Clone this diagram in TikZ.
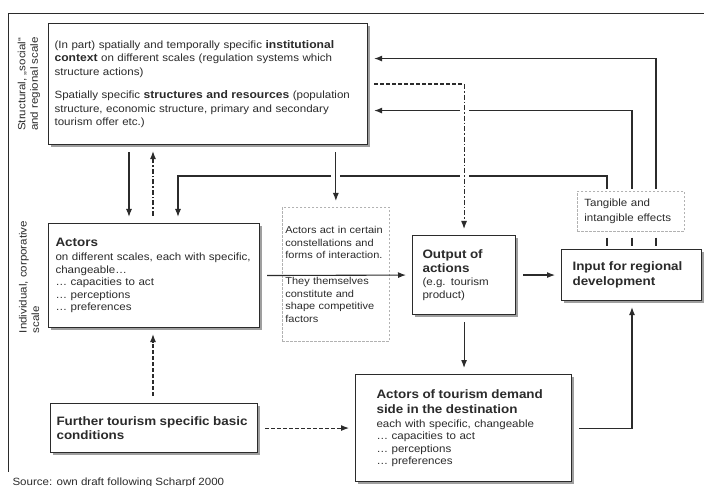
\documentclass[tikz,border=0pt]{standalone}
\usepackage{fontspec}
\setmainfont{Liberation Sans}[FakeStretch=1.1]
\usepackage{tikz}
\usetikzlibrary{arrows.meta}
\usetikzlibrary{shadows}
\usepackage{xcolor}
\definecolor{ink}{HTML}{2B2B2B}

\newcommand{\hd}[1]{{\fontsize{12.2}{15}\selectfont\bfseries #1}}
\newcommand{\kw}[1]{{\fontsize{11}{13}\selectfont\bfseries #1}}

\begin{document}
\begin{tikzpicture}[x=1pt,y=-1pt,
	box/.style={draw=ink, line width=1.1pt, fill=white, anchor=north west,
		drop shadow={shadow xshift=2pt, shadow yshift=-2pt, fill=gray!75, opacity=1},
		inner xsep=8pt, inner ysep=0pt, align=left, text=ink,
		font=\fontsize{10.5}{12.5}\selectfont},
	dbox/.style={draw=gray!60, dash pattern=on 2.5pt off 1.5pt, line width=0.7pt, anchor=north west,
		inner xsep=5pt, inner ysep=0pt, align=left, text=ink,
		font=\fontsize{10.5}{12.5}\selectfont},
	link/.style={draw=ink, line width=1.1pt, -{Latex[length=8pt,width=6pt]},
		shorten <=7pt, shorten >=6pt},
	tick/.style={draw=ink, line width=1.1pt, shorten <=6pt, shorten >=3pt},
	dsh/.style={dash pattern=on 4pt off 2pt},
	dshdot/.style={dash pattern=on 5pt off 2pt on 1.5pt off 2pt},
	gap/.style={preaction={draw=white, line width=9pt, solid, -}},
	side/.style={rotate=90, align=left, text=ink, font=\fontsize{10.5}{12.5}\selectfont},
	]
	\useasboundingbox (0,0) rectangle (704,486);
	\draw[ink, line width=0.8pt] (704,13) -- (8,13) -- (8,472);
	
	\node[side] at (29,84) (lvl1) {Structural, „social“\\and regional scale};
	\node[side] at (29,277) (lvl2) {Individual, corporative\\scale};
	
	\node[box, inner xsep=6pt, text width=307pt, minimum height=121pt,
		font=\fontsize{10.5}{13.3}\selectfont] at (48,23) (struct)
	{(In part) spatially and temporally specific \kw{institutional}\\
		\kw{context} on different scales (regulation systems which\\
		structure actions)\\[10.5pt]
		Spatially specific \kw{structures and resources} (population\\
		structure, economic structure, primary and secondary\\
		tourism offer etc.)};
	
	\node[box, inner xsep=7pt, text width=197pt, minimum height=104pt] at (48,223) (actors)
	{\hd{Actors}\\[1.5pt]
		on different scales, each with specific,\\
		changeable\ldots\\
		\ldots\ capacities to act\\
		\ldots\ perceptions\\
		\ldots\ preferences};
	
	\node[dbox, inner xsep=3pt, text width=101pt, minimum height=134pt,
		font=\fontsize{10}{12.5}\selectfont] at (282,207) (inter)
	{Actors act in certain\\
		constellations and\\
		forms of interaction.\\[13.5pt]
		They themselves\\
		constitute and\\
		shape competitive\\
		factors};
	
	\node[box, inner xsep=10pt, text width=83pt, minimum height=79pt] at (412,235) (output)
	{\hd{Output of}\\[1.5pt]
		\hd{actions}\\[1pt]
		(e.g. tourism\\
		product)};
	
	\node[dbox, inner xsep=7pt, text width=93pt, minimum height=40pt,
		font=\fontsize{10.5}{14.5}\selectfont] at (577,191) (effects)
	{Tangible and\\intangible effects};
	
	\node[box, inner xsep=11pt, text width=118pt, minimum height=51pt] at (561,249) (input)
	{\hd{Input for regional}\\[3pt]
		\hd{development}};
	
	\node[box, inner xsep=6pt, text width=195pt, minimum height=49pt] at (50,403) (further)
	{\hd{Further tourism specific basic}\\[1.5pt]
		\hd{conditions}};
	
	\node[box, inner xsep=21pt, text width=174pt, minimum height=107pt] at (355,374) (demand)
	{\hd{Actors of tourism demand}\\[2.5pt]
		\hd{side in the destination}\\[1.5pt]
		each with specific, changeable\\
		\ldots\ capacities to act\\
		\ldots\ perceptions\\
		\ldots\ preferences};
	
	% feedback from the effects
	\coordinate (t1) at ([xshift=30pt]effects.north west);
	\coordinate (t2) at ([xshift=55pt]effects.north west);
	\coordinate (t3) at ([xshift=79pt]effects.north west);
	\coordinate (fb) at (178,176);
	\draw[link, shorten <=2pt] (t1) |- (fb) -- (fb |- actors.north);
	\draw[link, shorten <=2pt] (t2) |- ([yshift=-26.5pt]struct.east);
	\draw[link, shorten <=2pt] (t3) |- ([yshift=25.5pt]struct.east);
	\foreach \t in {t1,t2,t3}
		\draw[tick] (\t |- effects.south) -- (\t |- input.north);
	
	\draw[link] ([xshift=81pt]struct.south west) -- ([xshift=81pt]actors.north west);
	\draw[link, dshdot] ([xshift=105pt]actors.north west) -- ([xshift=105pt]struct.south west);
	\draw[link, gap] (inter.north |- struct.south) -- (inter.north);
	\draw[link, dshdot, gap, shorten <=0pt] (output.north |- struct.east) -- (output.north);
	\draw[draw=ink, line width=1.1pt, dsh, shorten <=6pt] (struct.east) -- (output.north |- struct.east);
	
	\draw[link] (actors.east) -- (output.west);
	\draw[link] (output.east) -- (input.west);
	\draw[link] (output.south) -- (output.south |- demand.north);
	\draw[link] (demand.east) -| (t2 |- input.south);
	\draw[link, dsh] ([xshift=103pt]further.north west) -- ([xshift=105pt]actors.south west);
	\draw[link, dsh] (further.east) -- (demand.west);
	
	\node[anchor=base west, text=ink, font=\fontsize{10.5}{12.5}\selectfont] at (9,485) (src)
	{Source: own draft following Scharpf 2000};
\end{tikzpicture}
\end{document}
